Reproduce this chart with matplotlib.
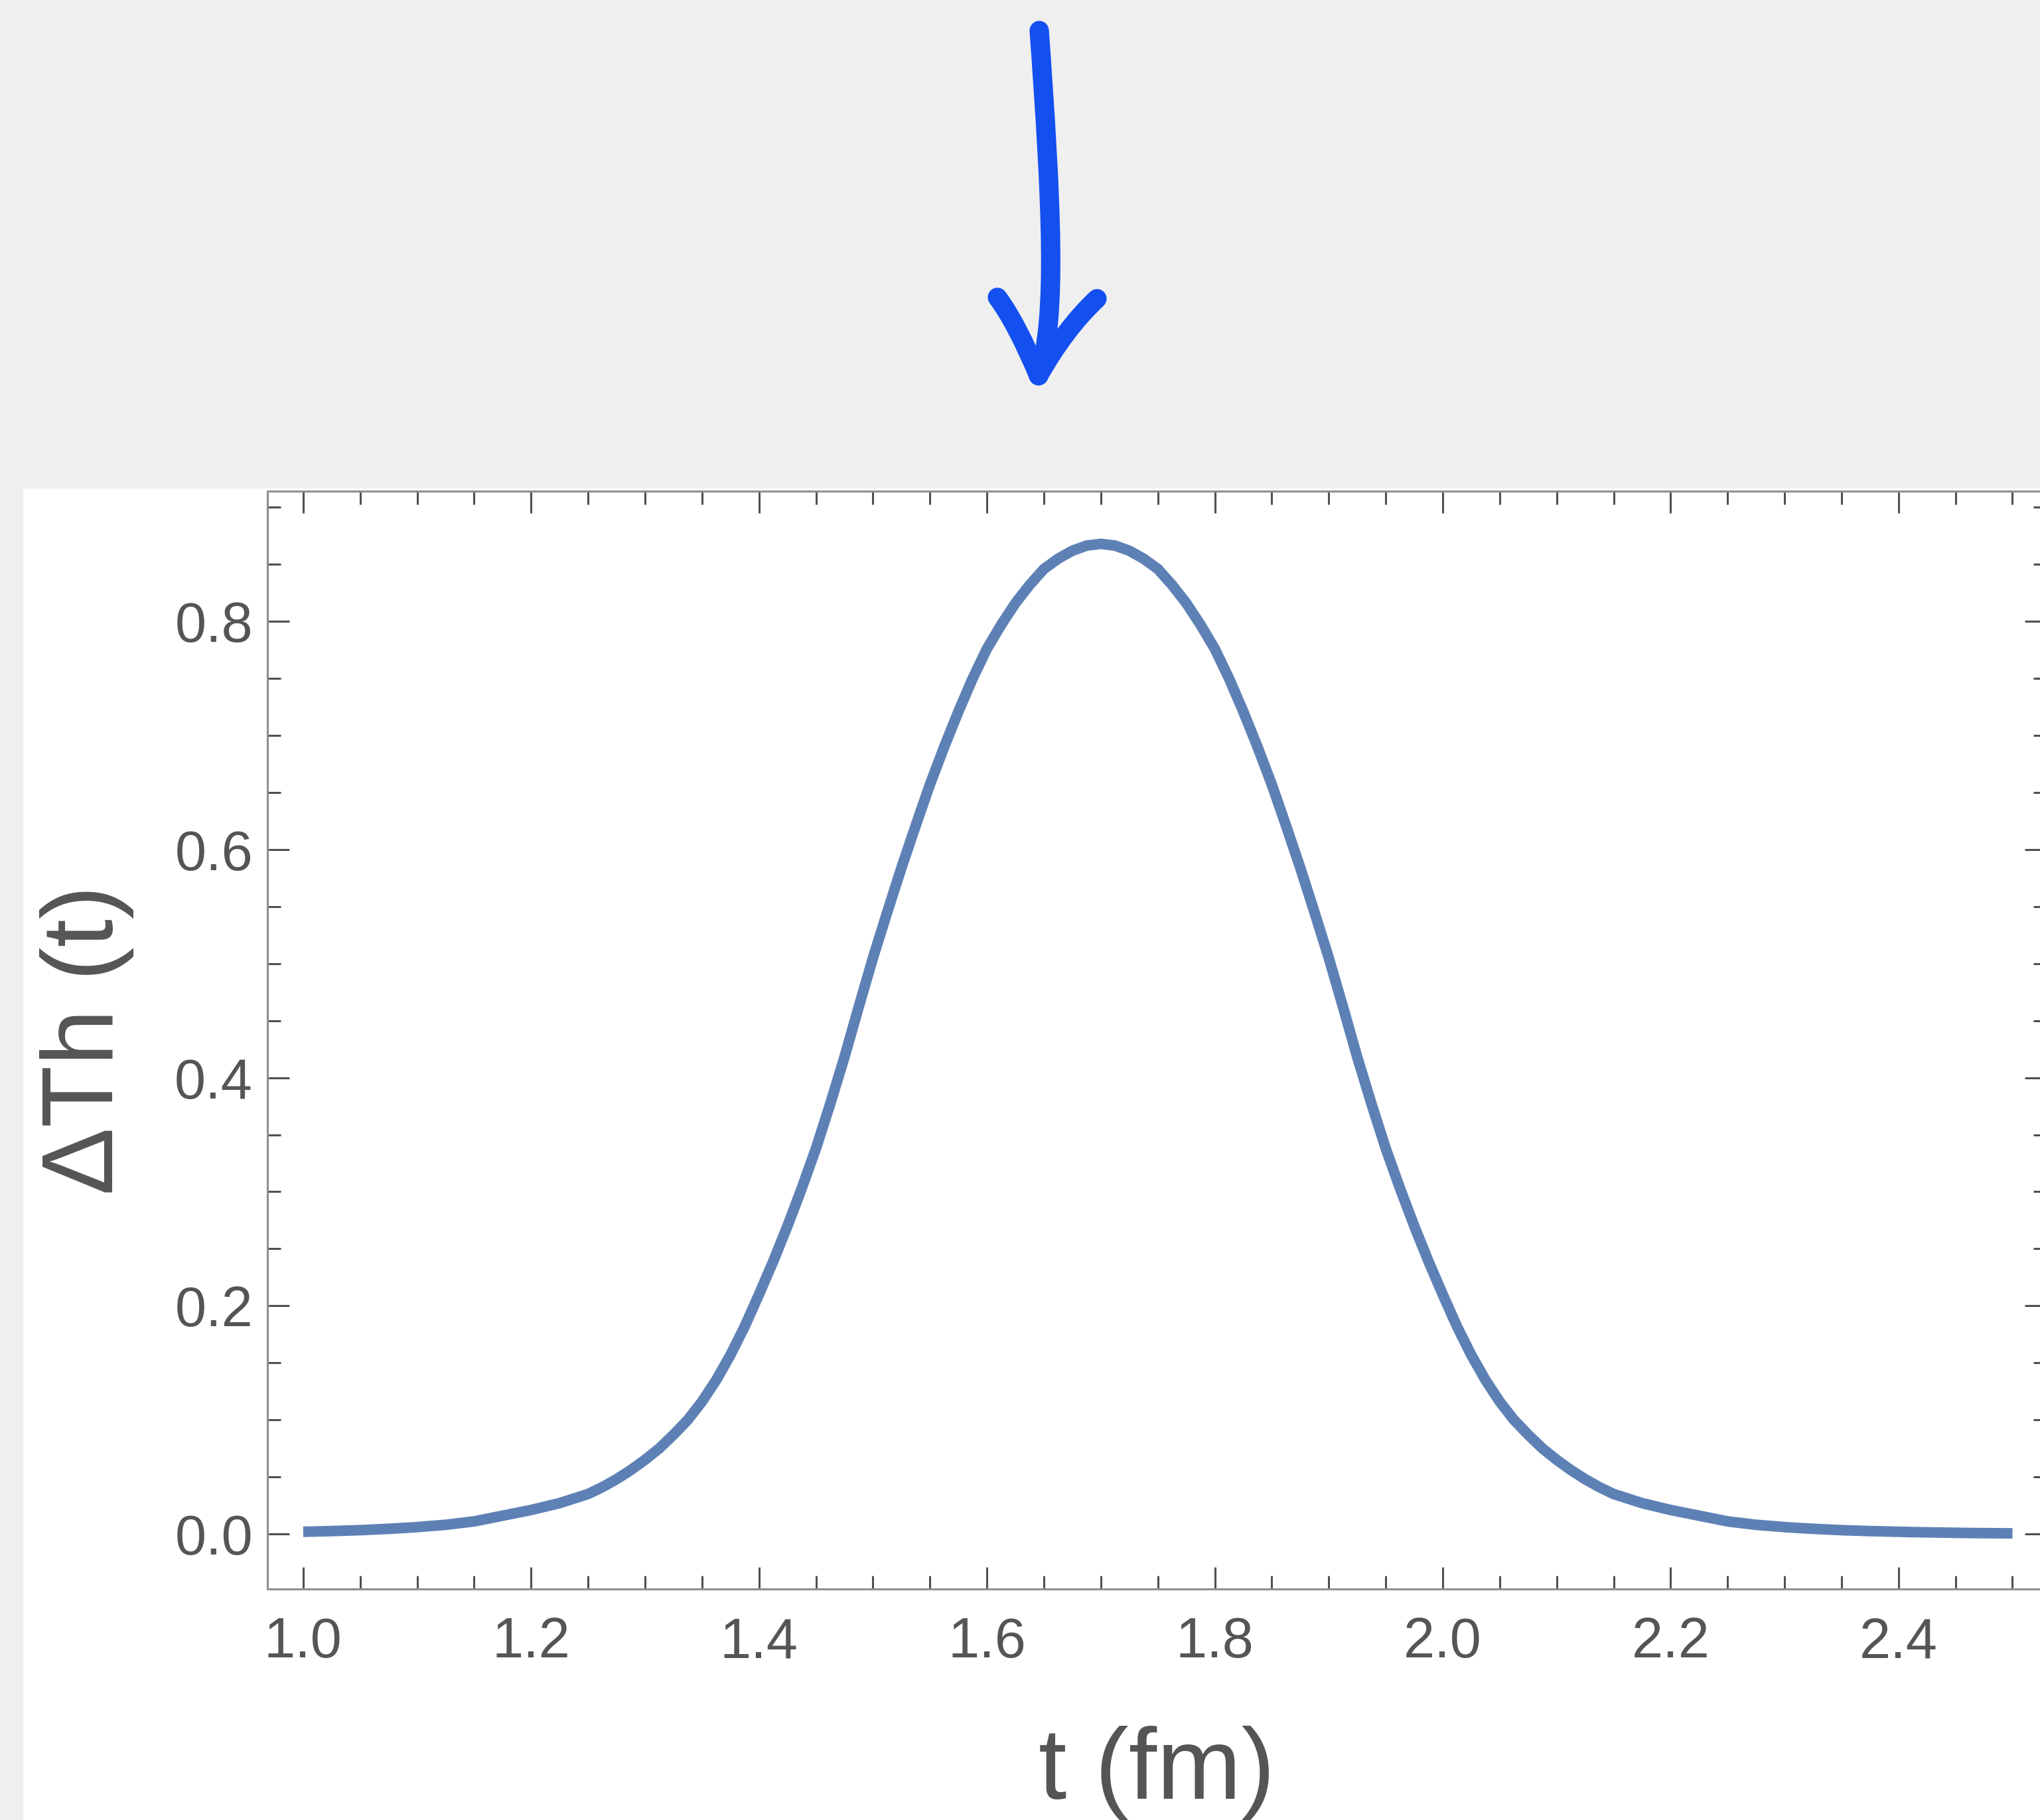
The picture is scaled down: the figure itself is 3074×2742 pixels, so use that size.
import matplotlib
matplotlib.use("Agg")
import matplotlib.pyplot as plt
from matplotlib.patches import Rectangle, PathPatch
from matplotlib.path import Path
from matplotlib.ticker import MultipleLocator, FixedLocator

# values
t_werte = [1.0000, 1.0125, 1.0250, 1.0375, 1.0500, 1.0625, 1.0750, 1.0875, 1.1000, 1.1125,
           1.1250, 1.1375, 1.1500, 1.1625, 1.1750, 1.1875, 1.2000, 1.2125, 1.2250, 1.2375,
           1.2500, 1.2625, 1.2750, 1.2875, 1.3000, 1.3125, 1.3250, 1.3375, 1.3500, 1.3625,
           1.3750, 1.3875, 1.4000, 1.4125, 1.4250, 1.4375, 1.4500, 1.4625, 1.4750, 1.4875,
           1.5000, 1.5125, 1.5250, 1.5375, 1.5500, 1.5625, 1.5750, 1.5875, 1.6000, 1.6125,
           1.6250, 1.6375, 1.6500, 1.6625, 1.6750, 1.6875, 1.7000, 1.7125, 1.7250, 1.7375,
           1.7500, 1.7625, 1.7750, 1.7875, 1.8000, 1.8125, 1.8250, 1.8375, 1.8500, 1.8625,
           1.8750, 1.8875, 1.9000, 1.9125, 1.9250, 1.9375, 1.9500, 1.9625, 1.9750, 1.9875,
           2.0000, 2.0125, 2.0250, 2.0375, 2.0500, 2.0625, 2.0750, 2.0875, 2.1000, 2.1125,
           2.1250, 2.1375, 2.1500, 2.1625, 2.1750, 2.1875, 2.2000, 2.2125, 2.2250, 2.2375,
           2.2500, 2.2625, 2.2750, 2.2875, 2.3000, 2.3125, 2.3250, 2.3375, 2.3500, 2.3625,
           2.3750, 2.3875, 2.4000, 2.4125, 2.4250, 2.4375, 2.4500, 2.4625, 2.4750, 2.4875,
           2.5000]
dth_werte = [0.0019, 0.0022, 0.0025, 0.0029, 0.0033, 0.0039, 0.0045, 0.0052, 0.0060, 0.0070,
             0.0080, 0.0095, 0.0110, 0.0135, 0.0160, 0.0185, 0.0210, 0.0240, 0.0270, 0.0310,
             0.0350, 0.0410, 0.0480, 0.0560, 0.0650, 0.0750, 0.0870, 0.1000, 0.1160, 0.1350,
             0.1570, 0.1820, 0.2100, 0.2390, 0.2700, 0.3030, 0.3380, 0.3770, 0.4180, 0.4620,
             0.5050, 0.5450, 0.5840, 0.6210, 0.6570, 0.6900, 0.7210, 0.7500, 0.7760, 0.7970,
             0.8160, 0.8320, 0.8460, 0.8550, 0.8620, 0.8665, 0.8680, 0.8665, 0.8620, 0.8550,
             0.8460, 0.8320, 0.8160, 0.7970, 0.7760, 0.7500, 0.7210, 0.6900, 0.6570, 0.6210,
             0.5840, 0.5450, 0.5050, 0.4620, 0.4180, 0.3770, 0.3380, 0.3030, 0.2700, 0.2390,
             0.2100, 0.1820, 0.1570, 0.1350, 0.1160, 0.1000, 0.0870, 0.0750, 0.0650, 0.0560,
             0.0480, 0.0410, 0.0350, 0.0310, 0.0270, 0.0240, 0.0210, 0.0185, 0.0160, 0.0135,
             0.0110, 0.0095, 0.0080, 0.0070, 0.0060, 0.0052, 0.0045, 0.0039, 0.0033, 0.0029,
             0.0025, 0.0022, 0.0019, 0.0016, 0.0014, 0.0012, 0.0010, 0.0008, 0.0007, 0.0006,
             0.0005]
x_ticks = [1.0, 1.2, 1.4, 1.6, 1.8, 2.0, 2.2, 2.4]
x_labels = ["1.0", "1.2", "1.4", "1.6", "1.8", "2.0", "2.2", "2.4"]
y_ticks = [0.0, 0.2, 0.4, 0.6, 0.8]
y_labels = ["0.0", "0.2", "0.4", "0.6", "0.8"]

# hand drawn arrow above the plot (pixel coords of the whole picture)
pfeil_schaft = [(1566, 46), (1584, 300), (1594, 480), (1565, 566)]
pfeil_links = [(1503, 448), (1532, 487), (1565, 566)]
pfeil_rechts = [(1653, 450), (1605, 495), (1565, 566)]

W, H = 3074, 2742
schrift = ["Liberation Sans", "DejaVu Sans"]
grau_text = "#555555"
linie = "#5e81b5"

canvas = plt.figure(figsize=(W / 100, H / 100), dpi=100, facecolor="#efefef")

hinten = canvas.add_axes([0, 0, 1, 1], zorder=0)
hinten.set_xlim(0, W)
hinten.set_ylim(H, 0)
hinten.axis("off")
hinten.add_patch(Rectangle((35, 736), W - 35, H - 736, facecolor="white", edgecolor="none"))
for strich, codes in ((pfeil_schaft, [Path.MOVETO, Path.CURVE4, Path.CURVE4, Path.CURVE4]),
                      (pfeil_links, [Path.MOVETO, Path.CURVE3, Path.CURVE3]),
                      (pfeil_rechts, [Path.MOVETO, Path.CURVE3, Path.CURVE3])):
    hinten.add_patch(PathPatch(Path(strich, codes), fill=False, edgecolor="#1450f0", lw=21,
                               capstyle="round", joinstyle="round"))

links, rechts, oben, unten = 403.3, 3084, 739.5, 2393.5
krd = canvas.add_axes([links / W, 1 - unten / H, (rechts - links) / W, (unten - oben) / H], zorder=1)
krd.set_facecolor("white")
krd.plot(t_werte, dth_werte, color=linie, lw=11.5, solid_capstyle="butt", solid_joinstyle="round")

krd.set_xlim(0.9688, 2.53)
krd.set_ylim(-0.048, 0.9145)
krd.xaxis.set_major_locator(FixedLocator(x_ticks))
krd.set_xticklabels(x_labels)
krd.yaxis.set_major_locator(FixedLocator(y_ticks))
krd.set_yticklabels(y_labels)
krd.xaxis.set_minor_locator(MultipleLocator(0.05))
krd.yaxis.set_minor_locator(MultipleLocator(0.05))

for seite in krd.spines.values():
    seite.set_color("#8f8f8f")
    seite.set_linewidth(2.2)

krd.tick_params(which="both", direction="in", top=True, right=True, color="#505050", width=2.2)
krd.tick_params(which="major", length=23.8)
krd.tick_params(which="minor", length=14.4)
krd.tick_params(axis="x", which="major", pad=30, labelsize=61, labelcolor=grau_text)
krd.tick_params(axis="y", which="major", pad=16, labelsize=61, labelcolor=grau_text)
for lbl in krd.get_xticklabels() + krd.get_yticklabels():
    lbl.set_family(schrift)

krd.set_xlabel("t (fm)", fontsize=110, color=grau_text, family=schrift)
krd.set_ylabel("\u0394Th (t)", fontsize=110, color=grau_text, family=schrift)
krd.xaxis.label.set_va("center")
krd.yaxis.label.set_va("center")
krd.xaxis.set_label_coords(0.5, -0.168)
krd.yaxis.set_label_coords(-0.1016, 0.5)

canvas.savefig("out.png", dpi=100, facecolor=canvas.get_facecolor())
